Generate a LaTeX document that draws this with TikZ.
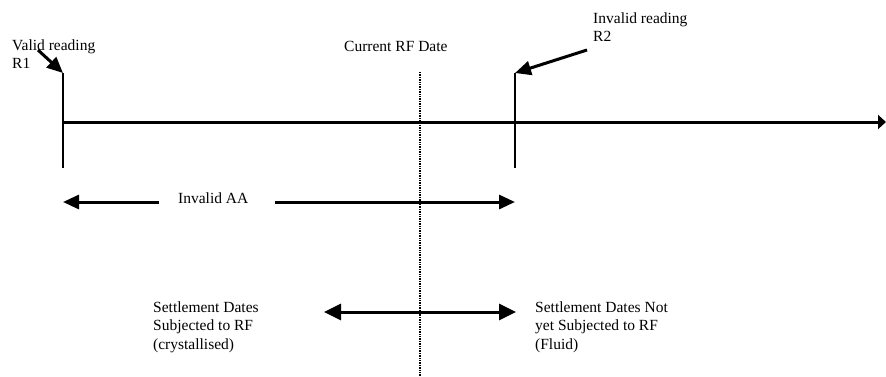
\documentclass[tikz,border=0pt]{standalone}
\usepackage{fontspec}
\setmainfont{Liberation Serif}
\usetikzlibrary{arrows.meta}
\tikzset{
	lbl/.style={inner sep=0pt, anchor=base west, align=left, font=\fontsize{15.5}{18.5}\selectfont},
	fat/.style={line width=3pt, -{Triangle[length=16pt,width=14pt]}},
	tick/.style={line width=1.6pt}
}
\begin{document}
\begin{tikzpicture}[x=1pt,y=-1pt]
\useasboundingbox (0,0) rectangle (886,376);
% time line and the two readings
\coordinate (t0) at (63,122);
\coordinate (tend) at (886,122);
\draw[line width=3pt, -{Triangle[length=8pt,width=14pt]}] (t0) -- (tend);
\coordinate (r1) at (63,73);
\coordinate (r1b) at (63,168);
\coordinate (r2) at (515,73);
\coordinate (r2b) at (515,168);
\draw[tick] (r1) -- (r1b);
\draw[tick] (r2) -- (r2b);
\node[lbl] (valid) at (12,68.5) {Valid reading\\R1};
\node[lbl] (invalid) at (593,41.5) {Invalid reading\\R2};
\coordinate (p1) at (38,50);
\coordinate (p2) at (587,50);
\draw[fat] (p1) -- (r1);
\draw[fat] (p2) -- (r2);
% current RF date
\node[lbl] (rf) at (344,51) {Current RF Date};
\coordinate (d0) at (420,72);
\coordinate (d1) at (420,376);
\draw[line width=2.4pt, dash pattern=on 1.3pt off 1.1pt] (d0) -- (d1);
% invalid AA span
\node[lbl] (aa) at (178,203) {Invalid AA};
\coordinate (aal) at (159,202);
\coordinate (aar) at (275,202);
\coordinate (aa0) at (63,202);
\coordinate (aa1) at (515,202);
\draw[fat] (aal) -- (aa0);
\draw[fat] (aar) -- (aa1);
% settlement dates
\node[lbl] (cryst) at (153,349) {Settlement Dates\\Subjected to RF\\(crystallised)};
\node[lbl] (fluid) at (535,349) {Settlement Dates Not\\yet Subjected to RF\\(Fluid)};
\coordinate (s0) at (324,312);
\coordinate (s1) at (516,312);
\draw[line width=3pt, {Triangle[length=17pt,width=16pt]}-{Triangle[length=17pt,width=16pt]}] (s0) -- (s1);
\end{tikzpicture}
\end{document}
